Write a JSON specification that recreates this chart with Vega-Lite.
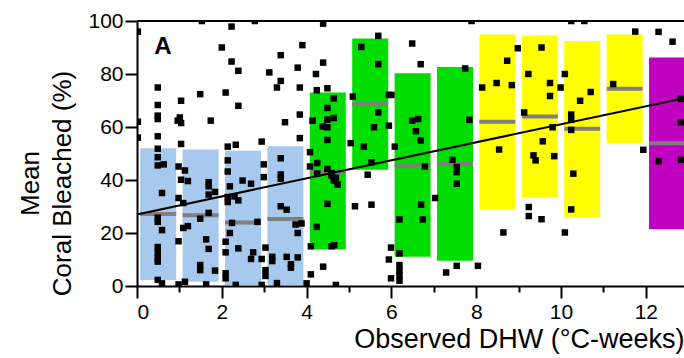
{
  "$schema": "https://vega.github.io/schema/vega-lite/v6.json",
  "width": 547,
  "height": 265,
  "autosize": "none",
  "padding": {"left": 137, "top": 21, "right": 0, "bottom": 72},
  "config": {"view": {"stroke": null}, "font": "Liberation Sans"},
  "datasets": {
    "boxes": [
      {"dhw_mid": 0.5, "low": 2.3, "high": 52, "median": 27.2, "class": "0-4"},
      {"dhw_mid": 1.5, "low": 1.6, "high": 51.5, "median": 26.7, "class": "0-4"},
      {"dhw_mid": 2.5, "low": 0.4, "high": 51, "median": 24, "class": "0-4"},
      {"dhw_mid": 3.5, "low": 0.4, "high": 52.7, "median": 25.3, "class": "0-4"},
      {"dhw_mid": 4.5, "low": 13.8, "high": 73, "median": 43, "class": "4-8"},
      {"dhw_mid": 5.5, "low": 43.9, "high": 93.4, "median": 68.7, "class": "4-8"},
      {"dhw_mid": 6.5, "low": 11, "high": 80.3, "median": 45.6, "class": "4-8"},
      {"dhw_mid": 7.5, "low": 9.5, "high": 82.6, "median": 46, "class": "4-8"},
      {"dhw_mid": 8.5, "low": 29, "high": 94.9, "median": 62, "class": "8-12"},
      {"dhw_mid": 9.5, "low": 33.6, "high": 94.5, "median": 64, "class": "8-12"},
      {"dhw_mid": 10.5, "low": 26, "high": 92.5, "median": 59.3, "class": "8-12"},
      {"dhw_mid": 11.5, "low": 53.9, "high": 94.9, "median": 74.4, "class": "8-12"},
      {"dhw_mid": 12.5, "low": 21.4, "high": 86.2, "median": 53.9, "class": ">12"}
    ],
    "fit": [
      {"dhw": 0, "bleached": 27},
      {"dhw": 12.9, "bleached": 70.9}
    ],
    "points": [
      {"dhw": 0.02, "bleached": 96}, {"dhw": 0.02, "bleached": 62}, {"dhw": 0.02, "bleached": 56},
      {"dhw": 0.49, "bleached": 74.9}, {"dhw": 0.49, "bleached": 68.3}, {"dhw": 0.49, "bleached": 64.3}, {"dhw": 0.49, "bleached": 63},
      {"dhw": 0.49, "bleached": 56.5}, {"dhw": 0.49, "bleached": 51.8}, {"dhw": 0.49, "bleached": 48.6}, {"dhw": 0.49, "bleached": 45.5},
      {"dhw": 0.63, "bleached": 45.9}, {"dhw": 0.98, "bleached": 45.1}, {"dhw": 0.59, "bleached": 35.1}, {"dhw": 0.98, "bleached": 33.2},
      {"dhw": 0.49, "bleached": 25.8}, {"dhw": 0.49, "bleached": 24.2}, {"dhw": 0.59, "bleached": 21.1}, {"dhw": 0.98, "bleached": 16.9},
      {"dhw": 0.49, "bleached": 14.7}, {"dhw": 0.49, "bleached": 12.5}, {"dhw": 0.49, "bleached": 10.5}, {"dhw": 0.49, "bleached": 9.2},
      {"dhw": 0.49, "bleached": 2.3}, {"dhw": 0.59, "bleached": 1.0}, {"dhw": 0.98, "bleached": 0.6}, {"dhw": 0.96, "bleached": 62.4},
      {"dhw": 1.04, "bleached": 69.9}, {"dhw": 1.49, "bleached": 72.4}, {"dhw": 1.01, "bleached": 63.6}, {"dhw": 1.04, "bleached": 61.5},
      {"dhw": 1.74, "bleached": 62.4}, {"dhw": 1.04, "bleached": 53.6}, {"dhw": 1.13, "bleached": 43.6}, {"dhw": 1.04, "bleached": 40.1},
      {"dhw": 1.2, "bleached": 39.6}, {"dhw": 1.69, "bleached": 39.2}, {"dhw": 1.69, "bleached": 37.6}, {"dhw": 1.84, "bleached": 35.5},
      {"dhw": 1.69, "bleached": 34.5}, {"dhw": 1.09, "bleached": 31.3}, {"dhw": 1.69, "bleached": 27.6}, {"dhw": 1.49, "bleached": 25.4},
      {"dhw": 1.09, "bleached": 21.9}, {"dhw": 1.2, "bleached": 22.6}, {"dhw": 1.63, "bleached": 17.6}, {"dhw": 1.69, "bleached": 14},
      {"dhw": 1.49, "bleached": 7.9}, {"dhw": 1.49, "bleached": 6.0}, {"dhw": 1.84, "bleached": 5.8}, {"dhw": 1.13, "bleached": 1.6},
      {"dhw": 1.63, "bleached": 0.6}, {"dhw": 1.53, "bleached": 100},
      {"dhw": 2.23, "bleached": 97.9}, {"dhw": 2.78, "bleached": 100}, {"dhw": 2.0, "bleached": 90}, {"dhw": 2.23, "bleached": 84.7},
      {"dhw": 2.39, "bleached": 81.2}, {"dhw": 2.09, "bleached": 73}, {"dhw": 2.39, "bleached": 68}, {"dhw": 2.14, "bleached": 52.6},
      {"dhw": 2.33, "bleached": 53.3}, {"dhw": 2.94, "bleached": 54.5}, {"dhw": 2.14, "bleached": 47.4}, {"dhw": 2.14, "bleached": 43.2},
      {"dhw": 2.19, "bleached": 37.6}, {"dhw": 2.49, "bleached": 39.8}, {"dhw": 2.69, "bleached": 38.6}, {"dhw": 2.99, "bleached": 45.9},
      {"dhw": 2.99, "bleached": 41.1}, {"dhw": 2.14, "bleached": 33.6}, {"dhw": 2.14, "bleached": 31.7}, {"dhw": 2.3, "bleached": 33.8},
      {"dhw": 2.39, "bleached": 32.3}, {"dhw": 2.24, "bleached": 23.8}, {"dhw": 2.84, "bleached": 24.2}, {"dhw": 2.19, "bleached": 20},
      {"dhw": 2.09, "bleached": 16.7}, {"dhw": 2.09, "bleached": 12.7}, {"dhw": 2.39, "bleached": 14.2}, {"dhw": 2.74, "bleached": 12.7},
      {"dhw": 2.69, "bleached": 10.2}, {"dhw": 2.94, "bleached": 10.2}, {"dhw": 2.09, "bleached": 4.8}, {"dhw": 2.09, "bleached": 2.9},
      {"dhw": 2.33, "bleached": 0.4}, {"dhw": 2.94, "bleached": 0.4},
      {"dhw": 3.12, "bleached": 80.6}, {"dhw": 3.39, "bleached": 87.1}, {"dhw": 3.79, "bleached": 82.4}, {"dhw": 3.9, "bleached": 90.9},
      {"dhw": 3.39, "bleached": 77.4}, {"dhw": 3.3, "bleached": 74.9}, {"dhw": 3.84, "bleached": 74.9}, {"dhw": 3.84, "bleached": 64.7},
      {"dhw": 3.49, "bleached": 61.8}, {"dhw": 3.84, "bleached": 55.8}, {"dhw": 3.39, "bleached": 48.2}, {"dhw": 3.39, "bleached": 42.1},
      {"dhw": 3.39, "bleached": 40.5}, {"dhw": 3.39, "bleached": 30.1}, {"dhw": 3.53, "bleached": 28.8}, {"dhw": 3.74, "bleached": 23.2},
      {"dhw": 3.88, "bleached": 23.6}, {"dhw": 3.79, "bleached": 20}, {"dhw": 3.03, "bleached": 14.5}, {"dhw": 3.53, "bleached": 11},
      {"dhw": 3.79, "bleached": 10.8}, {"dhw": 3.63, "bleached": 8.2}, {"dhw": 3.63, "bleached": 6.9}, {"dhw": 3.03, "bleached": 6.0},
      {"dhw": 3.03, "bleached": 3.8}, {"dhw": 3.19, "bleached": 11}, {"dhw": 3.19, "bleached": 9.4}, {"dhw": 3.3, "bleached": 1.1},
      {"dhw": 4.0, "bleached": 1.0},
      {"dhw": 4.22, "bleached": 80}, {"dhw": 4.24, "bleached": 73.9}, {"dhw": 4.14, "bleached": 62.4}, {"dhw": 4.08, "bleached": 50.5},
      {"dhw": 4.08, "bleached": 45.1}, {"dhw": 4.25, "bleached": 46.4}, {"dhw": 4.25, "bleached": 42.4}, {"dhw": 4.24, "bleached": 22.3},
      {"dhw": 4.1, "bleached": 15}, {"dhw": 4.1, "bleached": 4.4}, {"dhw": 4.39, "bleached": 99}, {"dhw": 4.39, "bleached": 84.3},
      {"dhw": 4.49, "bleached": 74.6}, {"dhw": 4.64, "bleached": 70.8}, {"dhw": 4.49, "bleached": 67.2}, {"dhw": 4.49, "bleached": 62.8},
      {"dhw": 4.64, "bleached": 63.4}, {"dhw": 4.38, "bleached": 60.2}, {"dhw": 4.49, "bleached": 59.9}, {"dhw": 4.49, "bleached": 55.1},
      {"dhw": 4.49, "bleached": 44.2}, {"dhw": 4.59, "bleached": 41.7}, {"dhw": 4.69, "bleached": 40.9}, {"dhw": 4.73, "bleached": 38.3},
      {"dhw": 4.59, "bleached": 42.6}, {"dhw": 4.64, "bleached": 39.8}, {"dhw": 4.49, "bleached": 31}, {"dhw": 4.59, "bleached": 15},
      {"dhw": 4.65, "bleached": 15.4}, {"dhw": 4.39, "bleached": 7.3}, {"dhw": 4.69, "bleached": 0.4},
      {"dhw": 5.69, "bleached": 94.4}, {"dhw": 5.29, "bleached": 90.2}, {"dhw": 5.69, "bleached": 83.7}, {"dhw": 5.09, "bleached": 71.5},
      {"dhw": 5.94, "bleached": 72.1}, {"dhw": 6.0, "bleached": 72.1}, {"dhw": 5.69, "bleached": 65.5}, {"dhw": 5.94, "bleached": 60.5},
      {"dhw": 5.59, "bleached": 59.9}, {"dhw": 5.04, "bleached": 53.9}, {"dhw": 5.35, "bleached": 52.6}, {"dhw": 5.44, "bleached": 42},
      {"dhw": 5.53, "bleached": 46.7}, {"dhw": 5.14, "bleached": 30.1}, {"dhw": 5.53, "bleached": 30.7}, {"dhw": 5.99, "bleached": 14.5},
      {"dhw": 5.94, "bleached": 10}, {"dhw": 5.99, "bleached": 2.9},
      {"dhw": 6.08, "bleached": 52.6}, {"dhw": 6.19, "bleached": 25.1}, {"dhw": 6.74, "bleached": 25.1}, {"dhw": 6.7, "bleached": 30.7},
      {"dhw": 6.19, "bleached": 12.3}, {"dhw": 6.19, "bleached": 7.9}, {"dhw": 6.19, "bleached": 6}, {"dhw": 6.19, "bleached": 4},
      {"dhw": 6.19, "bleached": 2}, {"dhw": 6.49, "bleached": 62.4}, {"dhw": 6.63, "bleached": 63}, {"dhw": 6.58, "bleached": 58.4},
      {"dhw": 6.69, "bleached": 54.9}, {"dhw": 6.79, "bleached": 45.1}, {"dhw": 6.49, "bleached": 91.5}, {"dhw": 6.69, "bleached": 83.7},
      {"dhw": 7.03, "bleached": 33.2}, {"dhw": 7.29, "bleached": 5.1}, {"dhw": 7.54, "bleached": 7.6}, {"dhw": 7.74, "bleached": 82.1},
      {"dhw": 7.84, "bleached": 62.7}, {"dhw": 7.44, "bleached": 47.6}, {"dhw": 7.54, "bleached": 44.9}, {"dhw": 7.54, "bleached": 43},
      {"dhw": 7.54, "bleached": 38.6}, {"dhw": 7.89, "bleached": 100},
      {"dhw": 8.04, "bleached": 7.6}, {"dhw": 8.98, "bleached": 89.7}, {"dhw": 8.73, "bleached": 85}, {"dhw": 8.14, "bleached": 74.9},
      {"dhw": 8.48, "bleached": 76.6}, {"dhw": 8.84, "bleached": 75.8}, {"dhw": 8.54, "bleached": 51.5}, {"dhw": 8.64, "bleached": 20.2},
      {"dhw": 9.54, "bleached": 90}, {"dhw": 9.23, "bleached": 80}, {"dhw": 9.13, "bleached": 65.5}, {"dhw": 9.57, "bleached": 54.6},
      {"dhw": 9.35, "bleached": 49.3}, {"dhw": 9.4, "bleached": 47.4}, {"dhw": 9.74, "bleached": 76.6}, {"dhw": 9.74, "bleached": 71.7},
      {"dhw": 9.99, "bleached": 74.9}, {"dhw": 9.8, "bleached": 59.9}, {"dhw": 9.84, "bleached": 49}, {"dhw": 9.24, "bleached": 29.8},
      {"dhw": 9.24, "bleached": 26.4}, {"dhw": 9.54, "bleached": 25.2},
      {"dhw": 10.09, "bleached": 80}, {"dhw": 10.09, "bleached": 20.2}, {"dhw": 10.24, "bleached": 64.7}, {"dhw": 10.24, "bleached": 62.7},
      {"dhw": 10.24, "bleached": 58.9}, {"dhw": 10.7, "bleached": 73.2}, {"dhw": 10.45, "bleached": 69.9}, {"dhw": 10.29, "bleached": 42.4},
      {"dhw": 10.24, "bleached": 28.9}, {"dhw": 10.24, "bleached": 100}, {"dhw": 10.55, "bleached": 100},
      {"dhw": 11.23, "bleached": 76.2}, {"dhw": 11.94, "bleached": 51.4}, {"dhw": 11.75, "bleached": 96},
      {"dhw": 12.3, "bleached": 95.9}, {"dhw": 12.63, "bleached": 92.2}, {"dhw": 12.83, "bleached": 70.6}, {"dhw": 12.83, "bleached": 61.8},
      {"dhw": 12.3, "bleached": 47.1}, {"dhw": 12.83, "bleached": 47.6}
    ]
  },
  "layer": [
    {
      "data": {"name": "boxes"},
      "mark": {"type": "bar", "size": 36},
      "encoding": {
        "x": {
          "field": "dhw_mid", "type": "quantitative",
          "scale": {"domain": [0, 12.9], "nice": false, "zero": false, "padding": 0},
          "axis": {
            "values": [0, 1, 2, 3, 4, 5, 6, 7, 8, 9, 10, 11, 12],
            "labelExpr": "datum.value % 2 == 0 ? datum.label : ''",
            "tickSize": {"condition": {"test": "datum.value % 2 == 0", "value": 12}, "value": 6},
            "tickWidth": 2, "tickColor": "black",
            "domainWidth": 2, "domainColor": "black",
            "labelFontSize": 21, "labelColor": "black", "labelPadding": 3,
            "grid": false,
            "title": "Observed DHW (°C-weeks)",
            "titleFontSize": 27, "titleFontWeight": "normal", "titleColor": "black",
            "titleAnchor": "end", "titlePadding": 4
          }
        },
        "y": {
          "field": "low", "type": "quantitative",
          "scale": {"domain": [0, 100], "nice": false, "padding": 0},
          "axis": {
            "values": [0, 10, 20, 30, 40, 50, 60, 70, 80, 90, 100],
            "labelExpr": "datum.value % 20 == 0 ? datum.label : ''",
            "tickSize": {"condition": {"test": "datum.value % 20 == 0", "value": 12}, "value": 6},
            "tickWidth": 2, "tickColor": "black",
            "domainWidth": 2, "domainColor": "black",
            "labelFontSize": 21, "labelColor": "black", "labelPadding": 2,
            "grid": false,
            "title": ["Mean", "Coral Bleached (%)"],
            "titleFontSize": 26, "titleFontWeight": "normal", "titleColor": "black",
            "titleLineHeight": 32, "titlePadding": 12, "titleY": 162
          }
        },
        "y2": {"field": "high"},
        "color": {
          "field": "class", "type": "nominal",
          "scale": {"domain": ["0-4", "4-8", "8-12", ">12"], "range": ["#a8c9ee", "#00dd00", "#ffff00", "#c000c0"]},
          "legend": null
        }
      }
    },
    {
      "data": {"name": "boxes"},
      "mark": {"type": "tick", "orient": "horizontal", "size": 36, "thickness": 4, "color": "#7f7f7f", "opacity": 1},
      "encoding": {
        "x": {"field": "dhw_mid", "type": "quantitative"},
        "y": {"field": "median", "type": "quantitative"}
      }
    },
    {
      "data": {"name": "fit"},
      "mark": {"type": "line", "color": "black", "strokeWidth": 2},
      "encoding": {
        "x": {"field": "dhw", "type": "quantitative"},
        "y": {"field": "bleached", "type": "quantitative"}
      }
    },
    {
      "data": {"name": "points"},
      "mark": {"type": "square", "size": 42, "color": "black", "opacity": 1, "filled": true, "clip": true},
      "encoding": {
        "x": {"field": "dhw", "type": "quantitative"},
        "y": {"field": "bleached", "type": "quantitative"}
      }
    },
    {
      "data": {"values": [{}]},
      "mark": {"type": "rule", "color": "black", "strokeWidth": 2},
      "encoding": {"y": {"datum": 100}}
    },
    {
      "data": {"values": [{"label": "A"}]},
      "mark": {"type": "text", "fontSize": 24, "fontWeight": "bold", "color": "black"},
      "encoding": {"x": {"datum": 0.61}, "y": {"datum": 90.2}, "text": {"field": "label"}}
    }
  ]
}
